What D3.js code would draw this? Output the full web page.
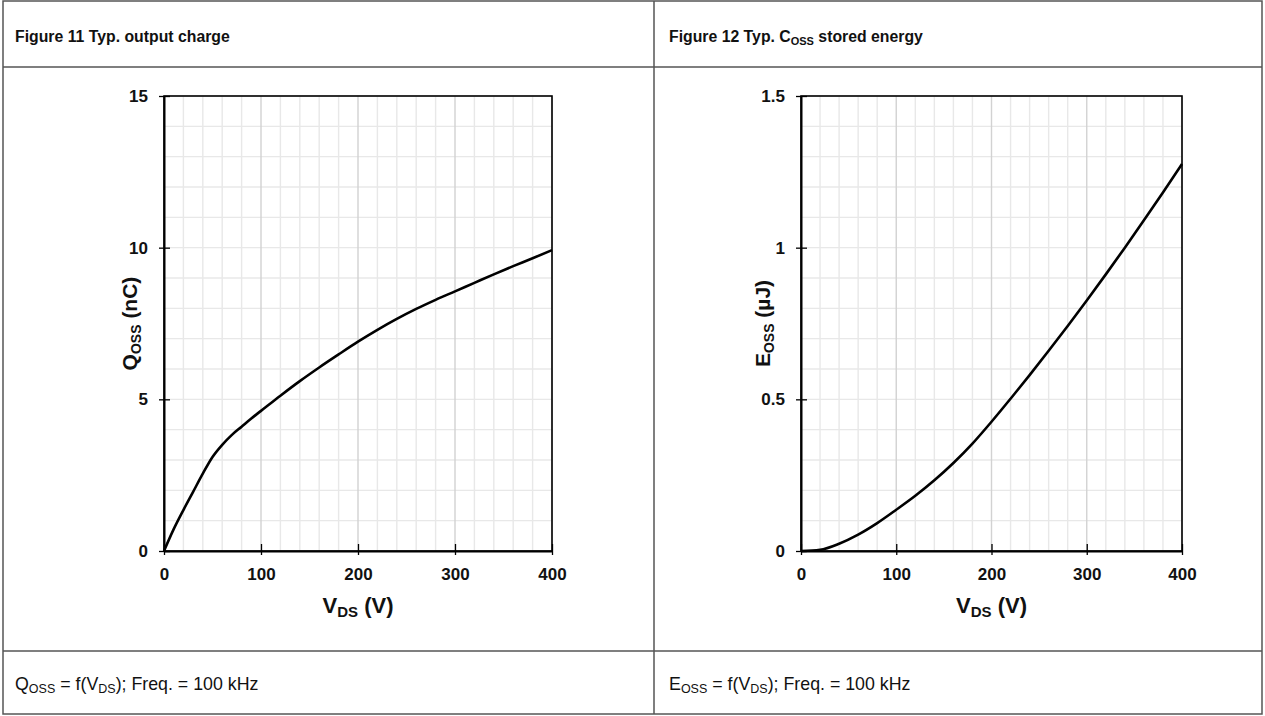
<!DOCTYPE html>
<html>
<head>
<meta charset="utf-8">
<script src="https://cdn.jsdelivr.net/npm/d3@7"></script>
<style>
  body { margin: 0; background: #fff; }
  svg { display: block; font-family: "Liberation Sans", Arial, sans-serif; }
</style>
</head>
<body>
<svg id="chart" width="1265" height="716"></svg>
<script>
// values
const vdsTicks = [0, 100, 200, 300, 400];
const qTicks = [0, 5, 10, 15];
const eTicks = [0, 0.5, 1, 1.5];
const eTickLabels = ["0", "0.5", "1", "1.5"];

const qVds = [0, 10, 20, 30, 40, 50, 60, 70, 80, 90, 100, 120, 140, 160, 180, 200, 220, 240, 260, 280, 300, 320, 340, 360, 380, 400];
const qOss = [0, 0.72, 1.35, 1.95, 2.55, 3.1, 3.5, 3.83, 4.1, 4.37, 4.62, 5.12, 5.6, 6.05, 6.48, 6.9, 7.29, 7.65, 7.98, 8.28, 8.56, 8.84, 9.12, 9.39, 9.65, 9.92];

const eVds = [0, 20, 40, 60, 80, 100, 120, 140, 160, 180, 200, 220, 240, 260, 280, 300, 320, 340, 360, 380, 400];
const eOss = [0, 0.004, 0.024, 0.054, 0.092, 0.136, 0.182, 0.233, 0.29, 0.354, 0.426, 0.502, 0.58, 0.66, 0.742, 0.826, 0.912, 1.0, 1.09, 1.182, 1.276];

const svg = d3.select("#chart");

// table frame
const frame = svg.append("g").attr("stroke", "#555").attr("stroke-width", 1.5);
frame.append("rect").attr("x", 3).attr("y", 1).attr("width", 1259).attr("height", 713).attr("fill", "none");
frame.append("line").attr("x1", 3).attr("x2", 1262).attr("y1", 67).attr("y2", 67);
frame.append("line").attr("x1", 3).attr("x2", 1262).attr("y1", 651).attr("y2", 651);
frame.append("line").attr("x1", 654).attr("x2", 654).attr("y1", 1).attr("y2", 714);

// text with subscripts: parts = [[text, isSub], ...]
function richText(sel, parts, size, subSize, shift) {
  sel.attr("font-size", size);
  let back = 0;
  parts.forEach(([t, sub]) => {
    sel.append("tspan")
      .attr("font-size", sub ? subSize : size)
      .attr("dy", sub ? shift : -back)
      .text(t);
    back = sub ? shift : 0;
  });
}

const panels = [
  {
    left: 164, right: 552, top: 96, bottom: 551,
    xs: qVds, ys: qOss, yMax: 15, yTicks: qTicks, yFmt: (d) => String(d),
    heading: [["Figure 11 Typ. output charge", false]], hx: 15,
    footer: [["Q", false], ["OSS", true], [" = f(V", false], ["DS", true], ["); Freq. = 100 kHz", false]],
    yTitle: [["Q", false], ["OSS", true], [" (nC)", false]], yTitleX: 137
  },
  {
    left: 801, right: 1182, top: 96, bottom: 551,
    xs: eVds, ys: eOss, yMax: 1.5, yTicks: eTicks, yFmt: (d, i) => eTickLabels[i],
    heading: [["Figure 12 Typ. C", false], ["OSS", true], [" stored energy", false]], hx: 669,
    footer: [["E", false], ["OSS", true], [" = f(V", false], ["DS", true], ["); Freq. = 100 kHz", false]],
    yTitle: [["E", false], ["OSS", true], [" (\u00B5J)", false]], yTitleX: 770
  }
];

panels.forEach((p) => {
  const x = d3.scaleLinear().domain([0, 400]).range([p.left, p.right]);
  const y = d3.scaleLinear().domain([0, p.yMax]).range([p.bottom, p.top]);

  // heading and footer
  const h = svg.append("text").attr("x", p.hx).attr("y", 42).attr("font-weight", "bold").attr("fill", "#111");
  richText(h, p.heading, 15.8, 11, 3);
  const f = svg.append("text").attr("x", p.hx).attr("y", 690).attr("fill", "#111");
  richText(f, p.footer, 17.8, 12.5, 3);

  const g = svg.append("g");

  // grid
  g.selectAll(".hgrid").data(y.ticks(15)).enter().append("line")
    .attr("x1", p.left).attr("x2", p.right)
    .attr("y1", (d) => y(d)).attr("y2", (d) => y(d))
    .attr("stroke", "#e8e8e8").attr("stroke-width", 1.4);
  g.selectAll(".vgrid").data(x.ticks(20)).enter().append("line")
    .attr("y1", p.top).attr("y2", p.bottom)
    .attr("x1", (d) => x(d)).attr("x2", (d) => x(d))
    .attr("stroke", (d) => (d % 100 === 0 ? "#d2d2d2" : "#e8e8e8"))
    .attr("stroke-width", 1.4);

  // frame of the plot
  g.append("rect").attr("x", p.left).attr("y", p.top)
    .attr("width", p.right - p.left).attr("height", p.bottom - p.top)
    .attr("fill", "none").attr("stroke", "#000").attr("stroke-width", 1.6);

  const xAxis = d3.axisBottom(x).tickValues(vdsTicks).tickSizeInner(4).tickSizeOuter(0).tickPadding(13);
  const gx = g.append("g").attr("transform", `translate(0,${p.bottom})`).call(xAxis);
  gx.select(".domain").attr("stroke", "#000").attr("stroke-width", 2);
  gx.selectAll(".tick line").attr("y1", -7).attr("stroke", "#000").attr("stroke-width", 1.3);
  gx.selectAll(".tick text").attr("font-size", 17).attr("font-weight", "bold")
    .attr("font-family", "Liberation Sans, Arial, sans-serif").attr("fill", "#111");

  const yAxis = d3.axisLeft(y).tickValues(p.yTicks).tickFormat(p.yFmt).tickSizeInner(5).tickSizeOuter(0).tickPadding(11);
  const gy = g.append("g").attr("transform", `translate(${p.left},0)`).call(yAxis);
  gy.select(".domain").attr("stroke", "#000").attr("stroke-width", 2);
  gy.selectAll(".tick line").attr("x1", 6).attr("stroke", "#000").attr("stroke-width", 1.3);
  gy.selectAll(".tick text").attr("font-size", 17).attr("font-weight", "bold")
    .attr("font-family", "Liberation Sans, Arial, sans-serif").attr("fill", "#111");

  // axis titles
  const xt = svg.append("text").attr("x", (p.left + p.right) / 2).attr("y", 613)
    .attr("text-anchor", "middle").attr("font-weight", "bold").attr("fill", "#111");
  richText(xt, [["V", false], ["DS", true], [" (V)", false]], 22, 15, 4);

  const yt = svg.append("text")
    .attr("transform", `translate(${p.yTitleX},${(p.top + p.bottom) / 2}) rotate(-90)`)
    .attr("text-anchor", "middle").attr("font-weight", "bold").attr("fill", "#111");
  richText(yt, p.yTitle, 21, 14, 4);

  // curve
  const pts = p.xs.map((v, i) => [v, p.ys[i]]);
  const line = d3.line().x((d) => x(d[0])).y((d) => y(d[1])).curve(d3.curveMonotoneX);
  g.append("path").datum(pts).attr("d", line)
    .attr("fill", "none").attr("stroke", "#000").attr("stroke-width", 2.6).attr("stroke-linejoin", "round");
});
</script>
</body>
</html>
